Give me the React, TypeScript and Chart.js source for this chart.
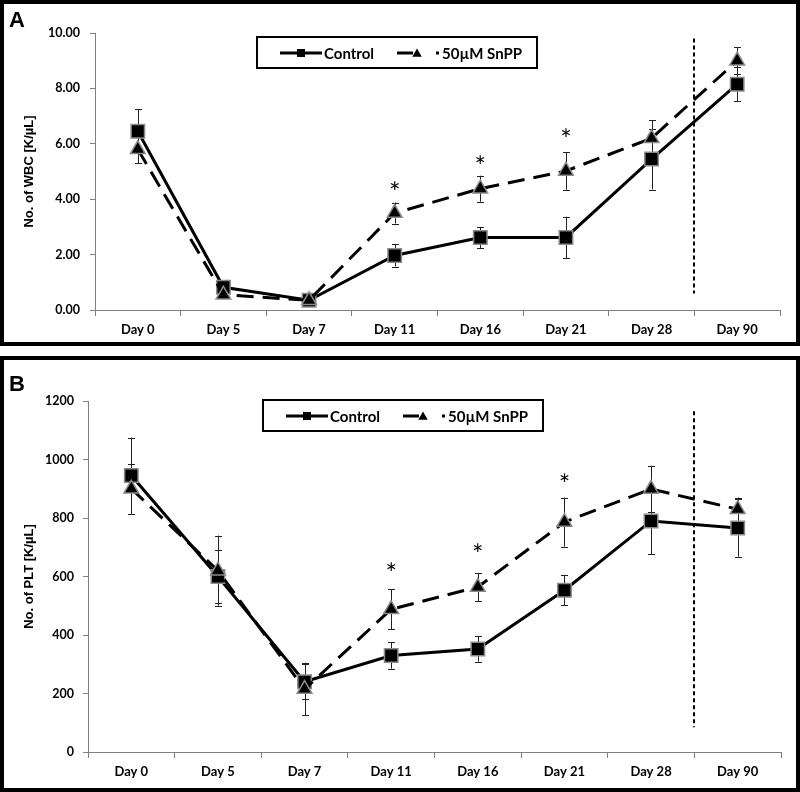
import React, { useEffect, useRef } from 'react';
import { Chart, registerables } from 'chart.js';

Chart.register(...registerables);

// ---------------- DATA ----------------
const days = ['Day 0', 'Day 5', 'Day 7', 'Day 11', 'Day 16', 'Day 21', 'Day 28', 'Day 90'];

// Panel A: WBC [K/µL]
const wbcControl = [6.45, 0.82, 0.35, 1.97, 2.62, 2.62, 5.45, 8.15];
const wbcControlErr = [0.8, 0.15, 0.1, 0.4, 0.38, 0.75, 1.1, 0.62];
const wbcSnpp = [5.8, 0.55, 0.35, 3.5, 4.38, 5.02, 6.2, 9.0];
const wbcSnppErr = [0.5, 0.1, 0.1, 0.38, 0.47, 0.68, 0.65, 0.48];
const wbcStars = [null, null, null, 4.44, 5.38, 6.35, null, null];
const wbcTicks = [0, 2, 4, 6, 8, 10];
const wbcDivider = [9.8, 0.6];

// Panel B: PLT [K/µL]
const pltControl = [945, 600, 240, 330, 352, 553, 790, 766];
const pltControlErr = [130, 92, 60, 45, 43, 52, 113, 98];
const pltSnpp = [900, 620, 215, 488, 564, 786, 899, 830];
const pltSnppErr = [85, 120, 90, 68, 48, 84, 80, 40];
const pltStars = [null, null, null, 629, 694, 933, null, null];
const pltTicks = [0, 200, 400, 600, 800, 1000, 1200];
const pltDivider = [1165, 85];

const legendLabels = ['Control', '50µM SnPP'];

// ---------------- HELPERS ----------------
type PanelCfg = {
  letter: string;
  letterY: number;
  legendX: number;
  legendY: number;
  errs: number[][];
  stars: (number | null)[];
  divider: number[];
};

function drawTriangle(ctx: CanvasRenderingContext2D, x: number, y: number, r: number) {
  ctx.beginPath();
  ctx.moveTo(x, y - r);
  ctx.lineTo(x + r * 0.866, y + r * 0.5);
  ctx.lineTo(x - r * 0.866, y + r * 0.5);
  ctx.closePath();
  ctx.fill();
}

function makePlugin(cfg: PanelCfg) {
  return {
    id: 'panelDecor',
    beforeDatasetsDraw(chart: any) {
      const ctx = chart.ctx as CanvasRenderingContext2D;
      const ys = chart.scales.y;
      ctx.save();
      ctx.strokeStyle = '#222';
      ctx.lineWidth = 1;
      chart.data.datasets.forEach((ds: any, di: number) => {
        const meta = chart.getDatasetMeta(di);
        const err = cfg.errs[di];
        meta.data.forEach((pt: any, i: number) => {
          const v = ds.data[i] as number;
          const x = Math.round(pt.x) + 0.5;
          const yTop = ys.getPixelForValue(v + err[i]);
          const yBot = ys.getPixelForValue(v - err[i]);
          ctx.beginPath();
          ctx.moveTo(x, yTop);
          ctx.lineTo(x, yBot);
          ctx.moveTo(x - 3.5, Math.round(yTop) + 0.5);
          ctx.lineTo(x + 3.5, Math.round(yTop) + 0.5);
          ctx.moveTo(x - 3.5, Math.round(yBot) + 0.5);
          ctx.lineTo(x + 3.5, Math.round(yBot) + 0.5);
          ctx.stroke();
        });
      });
      ctx.restore();
    },
    afterDraw(chart: any) {
      const ctx = chart.ctx as CanvasRenderingContext2D;
      const xs = chart.scales.x;
      const ys = chart.scales.y;
      const W = chart.width;
      const H = chart.height;
      ctx.save();

      // asterisks
      ctx.fillStyle = '#000';
      ctx.font = '27px Lato';
      ctx.textAlign = 'center';
      ctx.textBaseline = 'alphabetic';
      cfg.stars.forEach((s, i) => {
        if (s == null) return;
        ctx.fillText('*', xs.getPixelForValue(i), ys.getPixelForValue(s) + 15);
      });

      // dashed divider between Day 28 and Day 90
      const dx = Math.round((xs.getPixelForValue(6) + xs.getPixelForValue(7)) / 2);
      ctx.strokeStyle = '#000';
      ctx.lineWidth = 2;
      ctx.setLineDash([4, 3]);
      ctx.beginPath();
      ctx.moveTo(dx, ys.getPixelForValue(cfg.divider[0]));
      ctx.lineTo(dx, ys.getPixelForValue(cfg.divider[1]));
      ctx.stroke();
      ctx.setLineDash([]);

      // legend box
      const lx = cfg.legendX;
      const ly = cfg.legendY;
      ctx.lineWidth = 2;
      ctx.strokeStyle = '#000';
      ctx.fillStyle = '#fff';
      ctx.fillRect(lx, ly, 280, 31);
      ctx.strokeRect(lx, ly, 280, 31);
      const cy = ly + 16;
      ctx.lineWidth = 3;
      ctx.beginPath();
      ctx.moveTo(lx + 23, cy);
      ctx.lineTo(lx + 65, cy);
      ctx.stroke();
      ctx.fillStyle = '#000';
      ctx.fillRect(lx + 40, cy - 4, 8, 8);
      ctx.beginPath();
      ctx.moveTo(lx + 140, cy);
      ctx.lineTo(lx + 156, cy);
      ctx.stroke();
      drawTriangle(ctx, lx + 160, cy + 1, 5.5);
      ctx.fillRect(lx + 179, cy - 1.5, 3, 3);
      ctx.font = 'bold 15px Lato';
      ctx.textAlign = 'left';
      ctx.textBaseline = 'middle';
      ctx.fillText(legendLabels[0], lx + 67, cy + 1);
      ctx.fillText(legendLabels[1], lx + 185, cy + 1);

      // panel letter
      ctx.font = 'bold 22px "Liberation Sans", Arial';
      ctx.textAlign = 'left';
      ctx.textBaseline = 'middle';
      ctx.fillText(cfg.letter, 9, cfg.letterY);

      // panel border
      ctx.lineWidth = 4;
      ctx.strokeStyle = '#000';
      ctx.strokeRect(2, 2, W - 4, H - 4);
      ctx.restore();
    },
  };
}

function makeConfig(
  control: number[],
  snpp: number[],
  ticks: number[],
  yTitle: string,
  yWidth: number,
  xHeight: number,
  padTop: number,
  padRight: number,
  tickPad: number,
  decimals: number,
  cfg: PanelCfg
): any {
  return {
    type: 'line',
    data: {
      labels: days,
      datasets: [
        {
          label: legendLabels[0],
          data: control,
          borderColor: '#000',
          borderWidth: 3,
          pointStyle: 'rect',
          pointRadius: 9.5,
          pointBackgroundColor: '#000',
          pointBorderColor: '#8a8a8a',
          pointBorderWidth: 1.5,
          tension: 0,
          order: 2,
        },
        {
          label: legendLabels[1],
          data: snpp,
          borderColor: '#000',
          borderWidth: 3,
          borderDash: [17, 9],
          pointStyle: 'triangle',
          pointRadius: 8.5,
          pointBackgroundColor: '#000',
          pointBorderColor: '#8a8a8a',
          pointBorderWidth: 1.5,
          tension: 0,
          order: 1,
        },
      ],
    },
    options: {
      responsive: false,
      animation: false,
      devicePixelRatio: 1,
      layout: { padding: { top: padTop, right: padRight, left: 0, bottom: 0 } },
      plugins: { legend: { display: false }, tooltip: { enabled: false } },
      scales: {
        x: {
          type: 'category',
          offset: true,
          grid: {
            offset: true,
            drawOnChartArea: false,
            drawTicks: true,
            tickLength: 6,
            color: '#7f7f7f',
          },
          border: { display: true, color: '#7f7f7f', width: 1 },
          ticks: {
            color: '#000',
            padding: 6,
            maxRotation: 0,
            autoSkip: false,
            font: { family: 'Lato', size: 13, weight: 'bold' },
          },
          afterFit: (s: any) => {
            s.height = xHeight;
          },
        },
        y: {
          min: ticks[0],
          max: ticks[ticks.length - 1],
          afterBuildTicks: (s: any) => {
            s.ticks = ticks.map((v) => ({ value: v }));
          },
          grid: {
            drawOnChartArea: false,
            drawTicks: true,
            tickLength: 5,
            color: '#7f7f7f',
          },
          border: { display: true, color: '#7f7f7f', width: 1 },
          ticks: {
            color: '#000',
            padding: tickPad,
            callback: (v: any) => Number(v).toFixed(decimals),
            font: { family: 'Lato', size: 12.5, weight: 'bold' },
          },
          title: {
            display: true,
            text: yTitle,
            color: '#000',
            padding: { top: 22, bottom: 0 },
            font: { family: '"Liberation Sans", Arial', size: 13, weight: 'bold' },
          },
          afterFit: (s: any) => {
            s.width = yWidth;
          },
        },
      },
    },
    plugins: [makePlugin(cfg)],
  };
}

function Panel(props: { top: number; height: number; config: any }) {
  const ref = useRef<HTMLCanvasElement>(null);
  useEffect(() => {
    const chart = new Chart(ref.current as HTMLCanvasElement, props.config);
    return () => chart.destroy();
  }, []);
  return (
    <canvas
      ref={ref}
      width={800}
      height={props.height}
      style={{ position: 'absolute', left: 0, top: props.top, width: 800, height: props.height }}
    />
  );
}

export default function App() {
  const cfgA = makeConfig(
    wbcControl,
    wbcSnpp,
    wbcTicks,
    'No. of WBC [K/µL]',
    95,
    36,
    33,
    20,
    10,
    2,
    {
      letter: 'A',
      letterY: 21,
      legendX: 257,
      legendY: 37,
      errs: [wbcControlErr, wbcSnppErr],
      stars: wbcStars,
      divider: wbcDivider,
    }
  );
  const cfgB = makeConfig(
    pltControl,
    pltSnpp,
    pltTicks,
    'No. of PLT [K/µL]',
    88,
    40,
    45,
    19,
    9,
    0,
    {
      letter: 'B',
      letterY: 29,
      legendX: 263,
      legendY: 44,
      errs: [pltControlErr, pltSnppErr],
      stars: pltStars,
      divider: pltDivider,
    }
  );
  return (
    <div style={{ position: 'absolute', left: 0, top: 0, width: 800, height: 792, background: '#fff' }}>
      <Panel top={0} height={346} config={cfgA} />
      <Panel top={356} height={436} config={cfgB} />
    </div>
  );
}
